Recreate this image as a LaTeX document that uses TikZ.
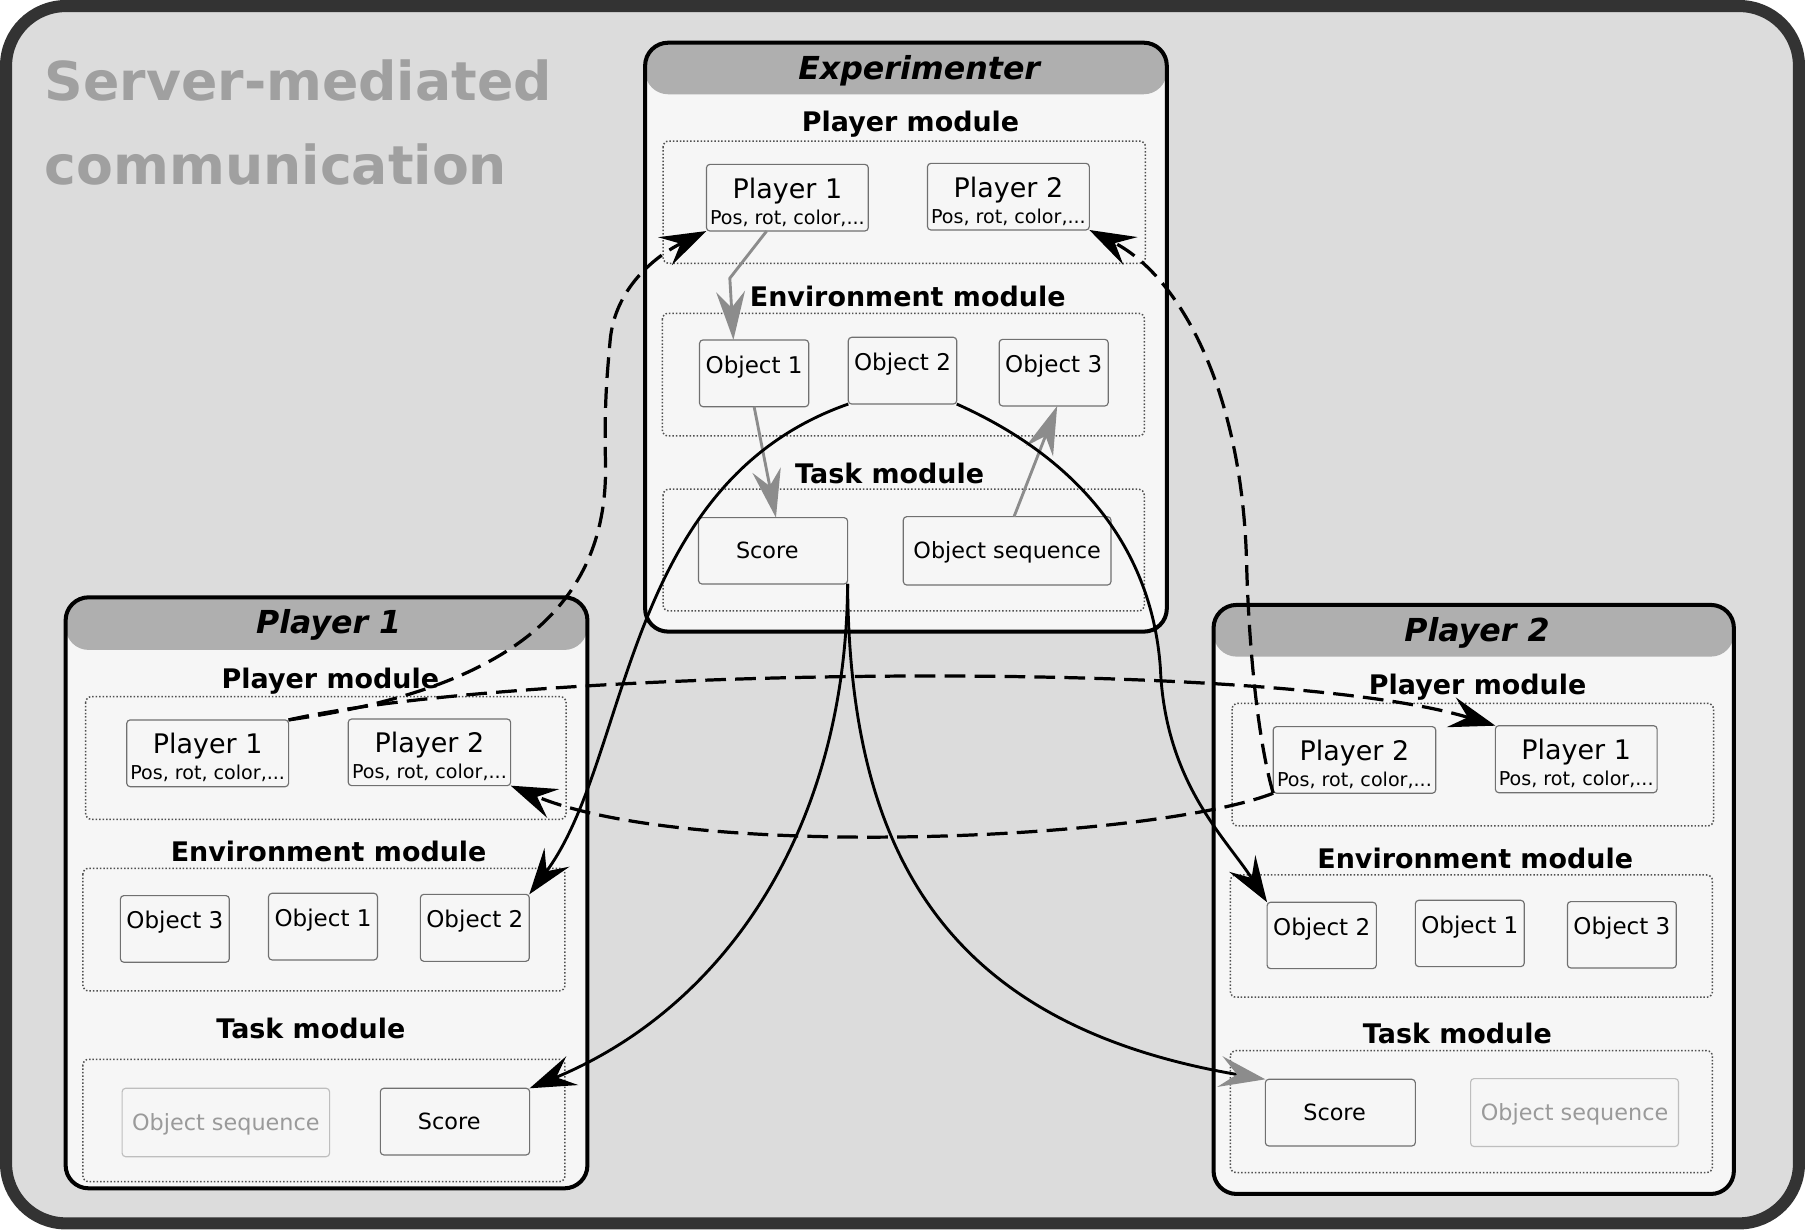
\documentclass[tikz,border=0pt]{standalone}
\usepackage{fontspec}
\setmainfont{DejaVu Sans}[BoldFont={DejaVu Sans Bold},ItalicFont={DejaVu Sans Oblique},BoldItalicFont={DejaVu Sans Bold Oblique}]
\usetikzlibrary{arrows.meta,calc}
\definecolor{framec}{HTML}{333333}
\definecolor{bgc}{HTML}{DCDCDC}
\definecolor{cfill}{HTML}{F6F6F6}
\definecolor{hdrc}{HTML}{AFAFAF}
\definecolor{ttlc}{HTML}{A0A0A0}
\definecolor{boxc}{HTML}{707070}
\definecolor{dotc}{HTML}{505050}
\definecolor{fadedc}{HTML}{BEBEBE}
\definecolor{fadedt}{HTML}{9A9A9A}
\definecolor{arrg}{HTML}{8C8C8C}
\newcommand{\bxn}[7]{\node[#1, minimum width={(#5-#3)*0.5pt}, minimum height={(#6-#4)*0.5pt}] (#2) at ({(#3+#5)/2},{(#4+#6)/2}) {#7};}
\tikzset{
  ttl/.style={anchor=base west, inner sep=0pt, text=ttlc, font=\fontsize{23.3}{27}\selectfont\bfseries},
  container/.style={draw=black, line width=1.75pt, rounded corners=10pt},
  hdr/.style={fill=hdrc, rounded corners=10pt},
  dotbox/.style={draw=dotc, line width=0.65pt, dash pattern=on 0.65pt off 0.85pt, rounded corners=2.5pt},
  box/.style={draw=boxc, fill=cfill, line width=0.5pt, rounded corners=1.5pt, inner sep=0pt, outer sep=0pt,
    font=\fontsize{9.7}{11.5}\selectfont, text height=6.6pt, text depth=0pt},
  objbox/.style={box, font=\fontsize{10}{12}\selectfont, text height=7pt, text depth=7pt},
  fadedbox/.style={box, draw=fadedc, text=fadedt},
  subtxt/.style={anchor=base, inner sep=0pt, font=\fontsize{8.3}{10}\selectfont},
  pl/.style={box, font=\fontsize{11.7}{13.5}\selectfont, text height=8.5pt, text depth=8pt,
    label={[subtxt, yshift=3pt]south:{Pos, rot, color,...}}},
  modlabel/.style={anchor=base, inner sep=0pt, font=\fontsize{11.7}{14}\selectfont\bfseries},
  ctitle/.style={anchor=base, inner sep=0pt, font=\fontsize{13.75}{16}\selectfont\bfseries\itshape},
  flow/.style={line width=1.25pt, -{Stealth[length=20pt, width=13.5pt, inset=7.5pt]}},
  flowg/.style={line width=1.25pt, -{Stealth[length=20pt, width=13.5pt, inset=7.5pt, color=arrg]}},
  msg/.style={line width=1.4pt, dash pattern=on 9pt off 4pt, -{Stealth[length=20pt, width=13.5pt, inset=7.5pt]}},
  garrow/.style={draw=arrg, line width=1.25pt, -{Stealth[length=21pt, width=12.5pt, inset=7pt]}},
}
\begin{document}
\begin{tikzpicture}[x=0.5pt,y=-0.5pt]
\useasboundingbox (0,0) rectangle (1568,1068);
\fill[white] (0,0) rectangle (1568,1068);
\draw[line width=5.25pt, draw=framec, fill=bgc, rounded corners=26pt] (5.25,5.25) rectangle (1562.75,1062.75);
\node[ttl] (t1) at (38.5,87) {Server-mediated};
\node[ttl] (t2) at (38.5,160.7) {communication};

% ---------------- Experimenter
\fill[cfill, rounded corners=10pt] (560.4,37.1) rectangle (1013.6,548.7);
\fill[hdr] (560.4,37.1) rectangle (1013.6,81.9);
\draw[container] (560.4,37.1) rectangle (1013.6,548.7);
\node[ctitle] (etitle) at (798.5,68.9) {Experimenter};
\node[modlabel] (epm) at (791,114.4) {Player module};
\node[modlabel] (eem) at (788.5,266.4) {Environment module};
\node[modlabel] (etm) at (772.8,419.9) {Task module};
\draw[dotbox] (576,122.5) rectangle (995,228.7);
\draw[dotbox] (575.4,272.2) rectangle (994.2,378.7);
\draw[dotbox] (576,425) rectangle (994,530.7);
\bxn{pl}{ep1}{613.7}{142.8}{754.3}{200.7}{Player 1}
\bxn{pl}{ep2}{805.7}{141.9}{946.3}{199.8}{Player 2}
\bxn{objbox}{eo1}{607.7}{295.3}{702.5}{353.3}{Object 1}
\bxn{objbox}{eo2}{736.9}{293}{831.1}{351}{Object 2}
\bxn{objbox}{eo3}{868}{294.8}{962.7}{352.7}{Object 3}
\bxn{box}{es}{606.8}{449.7}{736.3}{507.3}{Score\hspace*{5pt}}
\bxn{box}{eq}{784.7}{448.8}{965.1}{508.2}{Object sequence}

% ---------------- Player 1
\fill[cfill, rounded corners=10pt] (57,518.9) rectangle (510.3,1032.3);
\fill[hdr] (57,518.9) rectangle (510.3,564.6);
\draw[container] (57,518.9) rectangle (510.3,1032.3);
\node[ctitle] (atitle) at (285.5,550.7) {Player 1};
\node[modlabel] (apm) at (287,597.9) {Player module};
\node[modlabel] (aem) at (285.5,748.5) {Environment module};
\node[modlabel] (atm) at (270,902) {Task module};
\draw[dotbox] (74.4,605.2) rectangle (491.7,711.7);
\draw[dotbox] (72,754.3) rectangle (490.8,860.8);
\draw[dotbox] (72,920.2) rectangle (490.8,1026.5);
\bxn{pl}{ap1}{110.1}{625.4}{250.7}{683.4}{Player 1}
\bxn{pl}{ap2}{302.5}{624.6}{443.6}{682.5}{Player 2}
\bxn{objbox}{ao3}{104.6}{778}{199.2}{835.9}{Object 3}
\bxn{objbox}{ao1}{233.3}{776}{327.9}{833.9}{Object 1}
\bxn{objbox}{ao2}{365.2}{776.9}{459.8}{835.1}{Object 2}
\bxn{fadedbox}{aq}{106.1}{945.4}{286.3}{1004.8}{Object sequence}
\bxn{box}{as}{330.4}{945.4}{460.1}{1003.3}{Score\hspace*{5pt}}

% ---------------- Player 2
\fill[cfill, rounded corners=10pt] (1054.2,525.5) rectangle (1506.2,1037.2);
\fill[hdr] (1054.2,525.5) rectangle (1506.2,570.4);
\draw[container] (1054.2,525.5) rectangle (1506.2,1037.2);
\node[ctitle] (btitle) at (1283,557.3) {Player 2};
\node[modlabel] (bpm) at (1283.6,603.7) {Player module};
\node[modlabel] (bem) at (1281.5,754.3) {Environment module};
\node[modlabel] (btm) at (1266,906.9) {Task module};
\draw[dotbox] (1070.3,611) rectangle (1488.5,717.5);
\draw[dotbox] (1068.8,760.1) rectangle (1487.6,866.3);
\draw[dotbox] (1068.8,912.7) rectangle (1487.6,1018.6);
\bxn{pl}{bp2}{1106}{631.2}{1247.2}{689.1}{Player 2}
\bxn{pl}{bp1}{1299}{630.4}{1439.5}{688.6}{Player 1}
\bxn{objbox}{bo2}{1100.7}{783.8}{1195.6}{841.4}{Object 2}
\bxn{objbox}{bo1}{1229.5}{782.1}{1324.1}{839.7}{Object 1}
\bxn{objbox}{bo3}{1361.6}{783.2}{1456.2}{840.9}{Object 3}
\bxn{box}{bs}{1099.2}{937.6}{1229.5}{995.5}{Score\hspace*{5pt}}
\bxn{fadedbox}{bq}{1277.5}{937}{1458.1}{996}{Object sequence}

% ---------------- gray arrows inside Experimenter
\draw[garrow] ($(ep1.south)+(-18,0)$) -- ($(ep1.south)+(-50,41)$) -- ($(eo1.north)+(-18,0)$);
\draw[garrow] (eo1.south) -- ($(es.north)+(2.5,0)$);
\draw[garrow] ($(eq.north)+(6,0)$) -- ($(eo3.south)+(3,0)$);

% ---------------- solid flows
\draw[flow] (eo2.south west) .. controls (540,420) and (548,659) .. (ao2.north east);
\draw[flow] (eo2.south east) .. controls (930,395) and (1000,470) .. (1008,580)
  .. controls (1012,680) and (1065,728) .. (bo2.north west);
\draw[flow] (es.south east) .. controls (735,720) and (630,875) .. (as.north east);
\draw[flowg] (es.south east) .. controls (738,740) and (820,890) .. (bs.north west);

% ---------------- dashed messages
\draw[msg] (ap1.north east) .. controls (430,600) and (528,535) .. (526,404)
  .. controls (525,350) and (527,330) .. (530,296)
  .. controls (534,250) and (570,222) .. (ep1.south west);
\draw[msg] (bp2.south west) .. controls (1092,640) and (1085,560) .. (1083,493)
  .. controls (1080,340) and (1025,240) .. (ep2.south east);
\draw[msg] (ap1.north east) .. controls (450,580) and (1100,570) .. (bp1.north west);
\draw[msg] (bp2.south west) .. controls (1000,730) and (600,748) .. (ap2.south east);
\end{tikzpicture}
\end{document}
